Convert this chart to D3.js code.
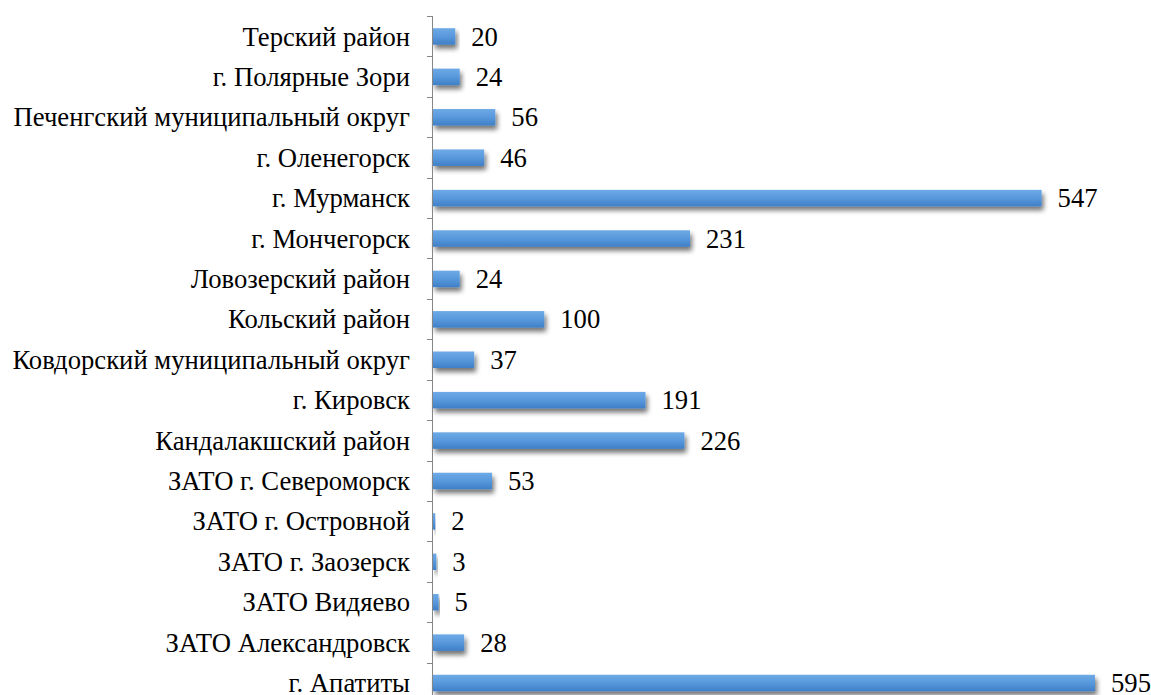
<!DOCTYPE html>
<html>
<head>
<meta charset="utf-8">
<script src="https://cdn.jsdelivr.net/npm/d3@7"></script>
<style>
    body { margin: 0; background: #fff; }
    .label { font-family: "Liberation Serif", "Times New Roman", serif; font-size: 26.67px; fill: #000; }
</style>
</head>
<body>
<div id="chart"></div>
<script>
// categories from top to bottom
const districts = [
    "Терский район",
    "г. Полярные Зори",
    "Печенгский муниципальный округ",
    "г. Оленегорск",
    "г. Мурманск",
    "г. Мончегорск",
    "Ловозерский район",
    "Кольский район",
    "Ковдорский муниципальный округ",
    "г. Кировск",
    "Кандалакшский район",
    "ЗАТО г. Североморск",
    "ЗАТО г. Островной",
    "ЗАТО г. Заозерск",
    "ЗАТО Видяево",
    "ЗАТО Александровск",
    "г. Апатиты"
];
const counts = [20, 24, 56, 46, 547, 231, 24, 100, 37, 191, 226, 53, 2, 3, 5, 28, 595];

const width = 1151;
const height = 695;
const margin = { top: 16, left: 433, right: 0, bottom: -8 };

const svg = d3.select("#chart")
    .append("svg")
    .attr("width", width)
    .attr("height", height);

const data = districts.map((d, i) => ({ name: d, value: counts[i] }));

//gradient and shadow for the bars
const defs = svg.append("defs");
const grad = defs.append("linearGradient")
    .attr("id", "barGrad")
    .attr("x1", 0).attr("y1", 0).attr("x2", 0).attr("y2", 1);
grad.append("stop").attr("offset", "0%").attr("stop-color", "#6eaae6");
grad.append("stop").attr("offset", "50%").attr("stop-color", "#5898dc");
grad.append("stop").attr("offset", "100%").attr("stop-color", "#3f7fc6");

const shadow = defs.append("filter")
    .attr("id", "shadow")
    .attr("x", "-10%").attr("y", "-50%")
    .attr("width", "130%").attr("height", "250%");
shadow.append("feGaussianBlur").attr("in", "SourceAlpha").attr("stdDeviation", 2.5);
shadow.append("feOffset").attr("dx", 2).attr("dy", 4).attr("result", "off");
shadow.append("feComponentTransfer").append("feFuncA").attr("type", "linear").attr("slope", 0.55);
const merge = shadow.append("feMerge");
merge.append("feMergeNode");
merge.append("feMergeNode").attr("in", "SourceGraphic");

//scales
const xScale = d3.scaleLinear()
    .domain([0, 595])
    .range([margin.left, 1095]);

const yScale = d3.scaleBand()
    .domain(districts)
    .range([margin.top, height - margin.bottom])
    .paddingInner(0.6)
    .paddingOuter(0.3);

const step = yScale.step();

//bars
svg.selectAll(".bar")
    .data(data)
    .enter()
    .append("rect")
    .attr("class", "bar")
    .attr("x", xScale(0))
    .attr("y", d => yScale(d.name) + yScale.bandwidth() / 2 - 8)
    .attr("width", d => xScale(d.value) - xScale(0))
    .attr("height", 16.5)
    .attr("fill", "url(#barGrad)")
    .attr("filter", "url(#shadow)");

//axis line with ticks between categories
const axis = svg.append("g");
axis.append("line")
    .attr("x1", margin.left - 0.5).attr("x2", margin.left - 0.5)
    .attr("y1", margin.top).attr("y2", height)
    .attr("stroke", "#868686")
    .attr("stroke-width", 1);

const tickYs = d3.range(districts.length + 1).map(i => margin.top + i * step);
axis.selectAll(".tick")
    .data(tickYs)
    .enter()
    .append("line")
    .attr("x1", margin.left - 6).attr("x2", margin.left)
    .attr("y1", d => Math.round(d) + 0.5).attr("y2", d => Math.round(d) + 0.5)
    .attr("stroke", "#868686");

//category labels
svg.selectAll(".catLabel")
    .data(data)
    .enter()
    .append("text")
    .attr("class", "label")
    .attr("x", 410)
    .attr("y", d => yScale(d.name) + yScale.bandwidth() / 2)
    .attr("dy", "0.35em")
    .attr("text-anchor", "end")
    .text(d => d.name);

//value labels
svg.selectAll(".valLabel")
    .data(data)
    .enter()
    .append("text")
    .attr("class", "label")
    .attr("x", d => xScale(d.value) + 16)
    .attr("y", d => yScale(d.name) + yScale.bandwidth() / 2)
    .attr("dy", "0.35em")
    .text(d => d.value);
</script>
</body>
</html>
